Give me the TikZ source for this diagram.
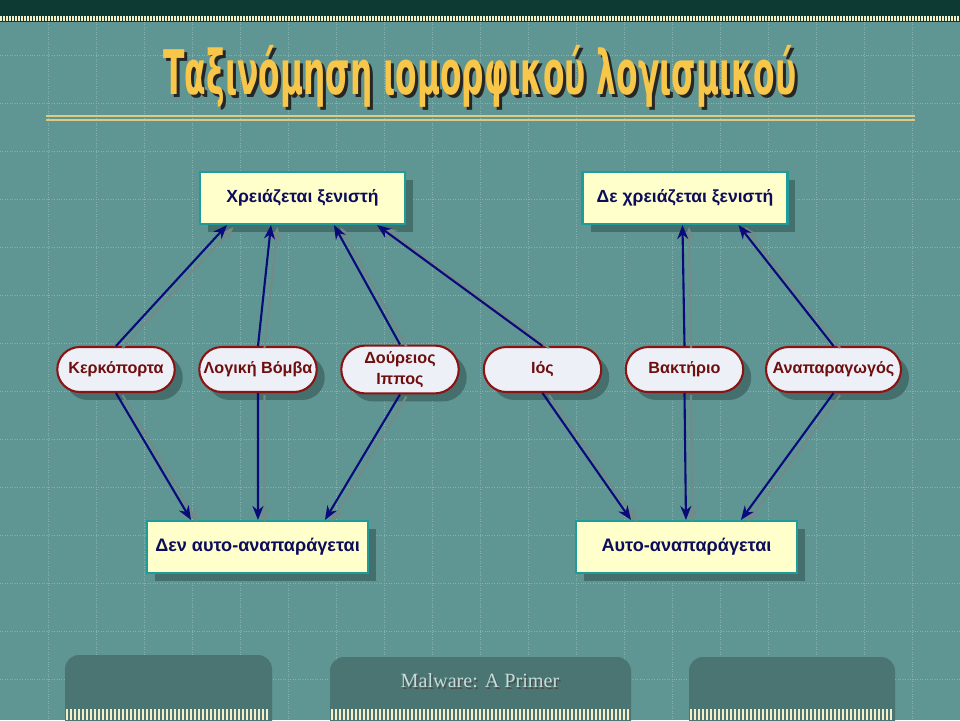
\documentclass[tikz,border=0pt]{standalone}
\usepackage{fontspec}
\setmainfont{Liberation Sans}
\newfontfamily\titlefont{DejaVu Sans}
\newfontfamily\footfont{Liberation Serif}
\usepackage{graphicx}
\usepackage{xcolor}
\usetikzlibrary{arrows.meta,shapes.misc,positioning,calc,shadows}

\definecolor{slidebg}{HTML}{5F9592}
\definecolor{gridcol}{HTML}{86B3B0}
\definecolor{topband}{HTML}{0D3A32}
\definecolor{titleyellow}{HTML}{F8C648}
\definecolor{rulecol}{HTML}{DCCB82}
\definecolor{boxfill}{HTML}{FFFFCC}
\definecolor{boxedge}{HTML}{1E9C9A}
\definecolor{boxtext}{HTML}{0C0C5A}
\definecolor{pillfill}{HTML}{EEF0F8}
\definecolor{pilledge}{HTML}{8A1414}
\definecolor{pilltext}{HTML}{6E0E0E}
\definecolor{arrowcol}{HTML}{0A0A7A}
\definecolor{arrowshade}{HTML}{728A88}
\definecolor{nodeshade}{HTML}{456F6C}
\definecolor{footbox}{HTML}{4A7572}
\definecolor{stripecol}{HTML}{F4EFC8}
\definecolor{foottext}{HTML}{BFDEDC}

\newcommand{\narrowtitle}[1]{\scalebox{0.51}[1]{#1}}

\tikzset{
  gridline/.style={gridcol, line width=0.4pt, densely dotted},
  hostbox/.style={draw=boxedge, line width=1.2pt, fill=boxfill, text=boxtext,
    minimum width=4.1cm, minimum height=1.04cm, font=\bfseries\fontsize{10}{12}\selectfont,
    drop shadow={shadow xshift=0.16cm, shadow yshift=-0.16cm, fill=nodeshade, opacity=1}},
  selfbox/.style={hostbox, minimum width=4.42cm, font=\bfseries\fontsize{10.3}{12}\selectfont},
  pill/.style={rounded rectangle, draw=pilledge, line width=1.2pt, fill=pillfill,
    text=pilltext, minimum width=2.56cm, minimum height=0.9cm, inner xsep=3pt,
    align=center, font=\bfseries\fontsize{9.2}{12}\selectfont,
    drop shadow={shadow xshift=0.16cm, shadow yshift=-0.16cm, fill=nodeshade, opacity=1}},
  link/.style={draw=arrowcol, line width=1.2pt, -{Stealth[length=0.28cm,width=0.22cm]}},
  linkshade/.style={link, draw=arrowshade, transform canvas={shift={(0.13cm,-0.04cm)}}},
  stripe/.style={stripecol, line width=0.7pt}
}

\begin{document}
\begin{tikzpicture}[x=0.02cm, y=-0.02cm]
  \useasboundingbox (0,0) rectangle (960,720);
  % background and grid
  \fill[slidebg] (0,0) rectangle (960,720);
  \foreach \gx in {48,96,...,912} \draw[gridline] (\gx,22) -- (\gx,720);
  \foreach \gy in {55,103,...,711} \draw[gridline] (0,\gy) -- (960,\gy);
  \fill[topband] (0,0) rectangle (960,22);
  \foreach \sx in {1,4,...,958} \draw[stripe] (\sx,16) -- (\sx,21);

  % title
  \node[text=black!85, font=\titlefont\bfseries\fontsize{35}{35}\selectfont] (titleshade) at (483,79) {\narrowtitle{Ταξινόμηση ιομορφικού λογισμικού}};
  \node[text=titleyellow, font=\titlefont\bfseries\fontsize{35}{35}\selectfont] (title) at (480,76) {\narrowtitle{Ταξινόμηση ιομορφικού λογισμικού}};
  \draw[rulecol, line width=1.1pt] (46,116) -- (915,116);
  \draw[rulecol, line width=1.1pt] (46,120) -- (915,120);

  % top row
  \node[hostbox] (host) at (302.5,198) {Χρειάζεται ξενιστή};
  \node[hostbox] (nohost) at (685,198) {Δε χρειάζεται ξενιστή};

  % middle row
  \node[pill] (kerk) at (116,369.5) {Κερκόπορτα};
  \node[pill] (logic) at (258,369.5) {Λογική Βόμβα};
  \node[pill] (troj) at (400,369.5) {Δούρειος\\Ιππος};
  \node[pill] (virus) at (542.5,369.5) {Ιός};
  \node[pill] (bact) at (684.5,369.5) {Βακτήριο};
  \node[pill] (repl) at (833.5,369.5) {Αναπαραγωγός};

  % bottom row
  \node[selfbox] (noself) at (257.5,547) {Δεν αυτο-αναπαράγεται};
  \node[selfbox] (self) at (686.5,547) {Αυτο-αναπαράγεται};

  % arrow ends
  \coordinate (hostA) at ($(host.south west)+(28,0)$);
  \coordinate (hostB) at ($(host.south west)+(72,0)$);
  \coordinate (hostC) at ($(host.south west)+(135,0)$);
  \coordinate (hostD) at ($(host.south west)+(178,0)$);
  \coordinate (nohostA) at ($(nohost.south west)+(101,0)$);
  \coordinate (nohostB) at ($(nohost.south west)+(157,0)$);
  \coordinate (noselfA) at ($(noself.north west)+(45,0)$);
  \coordinate (noselfB) at ($(noself.north west)+(112,0)$);
  \coordinate (noselfC) at ($(noself.north west)+(179,0)$);
  \coordinate (selfA) at ($(self.north west)+(56,0)$);
  \coordinate (selfB) at ($(self.north west)+(111,0)$);
  \coordinate (selfC) at ($(self.north west)+(166,0)$);

  % arrows
  \foreach \src/\dst in {kerk/hostA, logic/hostB, troj/hostC, virus/hostD, bact/nohostA, repl/nohostB} {
    \draw[linkshade] (\src.north) -- (\dst);
    \draw[link] (\src.north) -- (\dst);
  }
  \foreach \src/\dst in {kerk/noselfA, logic/noselfB, troj/noselfC, virus/selfA, bact/selfB, repl/selfC} {
    \draw[linkshade] (\src.south) -- (\dst);
    \draw[link] (\src.south) -- (\dst);
  }

  % footer
  \begin{scope}
    \clip (0,0) rectangle (960,720);
    \fill[footbox, rounded corners=8] (65,655) rectangle (272,740);
    \fill[footbox, rounded corners=8] (330,657) rectangle (631,740);
    \fill[footbox, rounded corners=8] (689,657) rectangle (895,740);
  \end{scope}
  \foreach \sx in {67,71,...,270} \draw[stripe] (\sx,709) -- (\sx,720);
  \foreach \sx in {332,336,...,630} \draw[stripe] (\sx,709) -- (\sx,720);
  \foreach \sx in {691,695,...,894} \draw[stripe] (\sx,709) -- (\sx,720);
  \node[text=black!70, font=\footfont\fontsize{11.5}{13}\selectfont] (footshade) at (481.5,682.5) {Malware: A Primer};
  \node[text=foottext, font=\footfont\fontsize{11.5}{13}\selectfont] (foot) at (480,681) {Malware: A Primer};
\end{tikzpicture}
\end{document}
